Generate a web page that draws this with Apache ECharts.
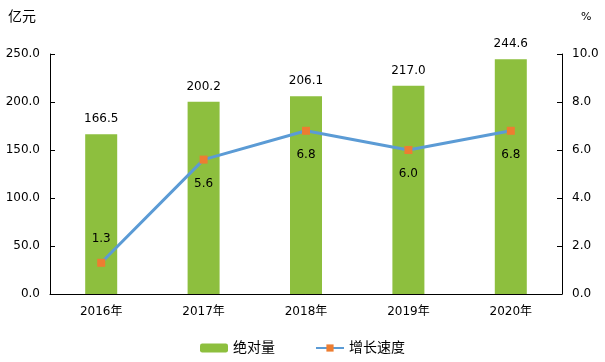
<!DOCTYPE html>
<html><head><meta charset="utf-8">
<script src="https://cdn.jsdelivr.net/npm/echarts@6/dist/echarts.min.js"></script>
<style>html,body{margin:0;padding:0;background:#fff}#c{width:605px;height:362px}</style>
</head><body><div id="c"></div>
<script>
const categories = ['2016年','2017年','2018年','2019年','2020年'];
const amounts = [166.5, 200.2, 206.1, 217.0, 244.6];
const growth = [1.3, 5.6, 6.8, 6.0, 6.8];
const growthLabelPos = ['top','bottom','bottom','bottom','bottom'];
const leftUnit = '亿元';
const rightUnit = '%';

const font = '"DejaVu Sans","Noto Sans CJK SC",sans-serif';
const chart = echarts.init(document.getElementById('c'));
chart.setOption({
  animation: false,
  textStyle: {fontFamily: font},
  grid: {left: 50, right: 43, top: 54, bottom: 68, containLabel: false},
  legend: {
    bottom: 2, left: 'center', itemGap: 40, itemWidth: 28, itemHeight: 9,
    textStyle: {fontSize: 14, color: '#000', fontFamily: font},
    data: [{name: '绝对量'}, {name: '增长速度'}]
  },
  graphic: [
    {type: 'text', left: 8, top: 10, style: {text: leftUnit, fill: '#000', font: '14px ' + font}},
    {type: 'text', left: 581, top: 12, style: {text: rightUnit, fill: '#000', font: '11px ' + font}}
  ],
  xAxis: {
    type: 'category', data: categories,
    axisLine: {lineStyle: {color: '#000'}},
    axisTick: {show: false},
    axisLabel: {color: '#000', fontSize: 12, margin: 12}
  },
  yAxis: [
    {type: 'value', min: 0, max: 250, interval: 50,
     splitLine: {show: false},
     axisLine: {show: true, lineStyle: {color: '#000'}},
     axisTick: {show: true, inside: true, length: 5, lineStyle: {color: '#000'}},
     axisLabel: {color: '#000', fontSize: 12, margin: 10, formatter: v => v.toFixed(1)}},
    {type: 'value', min: 0, max: 10, interval: 2,
     splitLine: {show: false},
     axisLine: {show: true, lineStyle: {color: '#000'}},
     axisTick: {show: true, inside: true, length: 5, lineStyle: {color: '#000'}},
     axisLabel: {color: '#000', fontSize: 12, margin: 10, formatter: v => v.toFixed(1)}}
  ],
  series: [
    {name: '绝对量', type: 'bar', data: amounts, barWidth: 32,
     itemStyle: {color: '#8DBF3E'},
     label: {show: true, position: 'top', distance: 9, color: '#000', fontSize: 12, formatter: p => p.value.toFixed(1)}},
    {name: '增长速度', type: 'line', yAxisIndex: 1,
     data: growth.map((v, i) => ({value: v, label: {position: growthLabelPos[i]}})),
     lineStyle: {color: '#5B9BD5', width: 3},
     itemStyle: {color: '#ED7D31'},
     symbol: 'rect', symbolSize: 8,
     label: {show: true, distance: 14, color: '#000', fontSize: 12, formatter: p => p.value.toFixed(1)}}
  ]
});
</script></body></html>
